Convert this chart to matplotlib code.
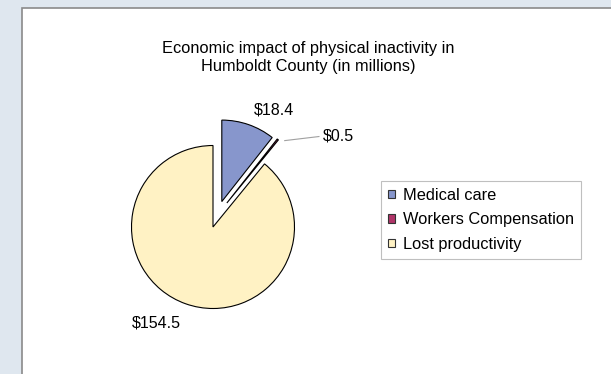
import matplotlib
matplotlib.use('Agg')
import matplotlib.pyplot as plt
import numpy as np
from matplotlib.patches import Rectangle, Patch

categories = ['Medical care', 'Workers Compensation', 'Lost productivity']
values = [18.4, 0.5, 154.5]
value_labels = ['$18.4', '$0.5', '$154.5']
colors = ['#8796cc', '#b03468', '#fff2c4']
explode = [0.33, 0.34, 0]

plt.rcParams['font.family'] = ['Liberation Sans', 'DejaVu Sans']

fig = plt.figure(figsize=(6.11, 3.74), dpi=100)
fig.patch.set_facecolor('#dfe7ef')

# white chart panel with grey border (behind everything)
W, H = 611, 374
fig.patches.append(Rectangle((22 / W, -0.01), 1.0, 1 - 8 / H + 0.01, transform=fig.transFigure,
                             facecolor='white', edgecolor='#8a8a8a', linewidth=1.2, zorder=-5))

# pie axes, centre at (213, 227) px, radius ~81 px
R = 81.5
cx, cy = 213, H - 227
k = 1.7
ax = fig.add_axes([(cx - k * R) / W, (cy - k * R) / H, 2 * k * R / W, 2 * k * R / H])

wedges, _ = ax.pie(values, colors=colors, explode=explode, startangle=90, counterclock=False,
                   wedgeprops=dict(edgecolor='black', linewidth=0.8))
for w in wedges:
    w.set_clip_on(False)
# excel pushes the tiny slice out alongside the medical slice
ang = np.deg2rad(60)
wedges[1].set_center((explode[1] * np.cos(ang), explode[1] * np.sin(ang)))
ax.set_xlim(-k, k)
ax.set_ylim(-k, k)
ax.axis('off')

ax.text(0.75, 1.43, value_labels[0], ha='center', va='center', fontsize=11.5)
ax.text(1.54, 1.12, value_labels[1], ha='center', va='center', fontsize=11.5)
ax.text(-0.69, -1.18, value_labels[2], ha='center', va='center', fontsize=11.5)
ax.plot([0.88, 1.30], [1.06, 1.11], color='#a0a0a0', linewidth=0.8, clip_on=False)

fig.text(308 / W, 1 - 57.5 / H, 'Economic impact of physical inactivity in\nHumboldt County (in millions)',
         ha='center', va='center', fontsize=11.8, linespacing=1.25)

handles = [Patch(facecolor=c, edgecolor='#333333', linewidth=0.8) for c in colors]
leg = fig.legend(handles, categories, loc='upper left', bbox_to_anchor=(381 / W, 1 - 181 / H),
                 fontsize=11.8, frameon=True, fancybox=False, edgecolor='#b0b0b0',
                 handlelength=0.45, handleheight=0.45, handletextpad=0.45,
                 labelspacing=0.58, borderpad=0.42, borderaxespad=0)
leg.get_frame().set_linewidth(0.8)

fig.savefig('out.png', dpi=100, facecolor=fig.get_facecolor())
